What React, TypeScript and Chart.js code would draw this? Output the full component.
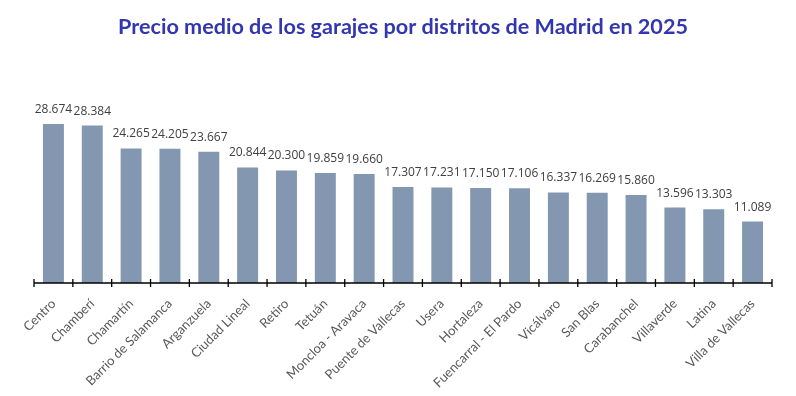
import React, { useEffect, useRef } from "react";
import { Chart, registerables } from "chart.js";

Chart.register(...registerables);

const TITLE = "Precio medio de los garajes por distritos de Madrid en 2025";
const districts = [
  "Centro",
  "Chamberí",
  "Chamartín",
  "Barrio de Salamanca",
  "Arganzuela",
  "Ciudad Lineal",
  "Retiro",
  "Tetuán",
  "Moncloa - Aravaca",
  "Puente de Vallecas",
  "Usera",
  "Hortaleza",
  "Fuencarral - El Pardo",
  "Vicálvaro",
  "San Blas",
  "Carabanchel",
  "Villaverde",
  "Latina",
  "Villa de Vallecas",
];
const prices = [
  28674, 28384, 24265, 24205, 23667, 20844, 20300, 19859, 19660, 17307, 17231,
  17150, 17106, 16337, 16269, 15860, 13596, 13303, 11089,
];

const fmt = (v: number) => {
  const s = String(Math.round(v));
  return s.replace(/\B(?=(\d{3})+(?!\d))/g, ".");
};

const overlay = {
  id: "overlay",
  afterDraw(chart: any) {
    const ctx = chart.ctx;
    const xs = chart.scales.x;
    const area = chart.chartArea;
    ctx.save();
    ctx.strokeStyle = "#000000";
    ctx.lineWidth = 1.3;
    ctx.beginPath();
    ctx.moveTo(area.left, area.bottom);
    ctx.lineTo(area.right, area.bottom);
    const n = districts.length;
    const w = (area.right - area.left) / n;
    for (let i = 0; i <= n; i++) {
      const x = i < n ? xs.getPixelForValue(i) - w / 2 : xs.getPixelForValue(n - 1) + w / 2;
      ctx.moveTo(x, area.bottom - 4);
      ctx.lineTo(x, area.bottom + 4);
    }
    ctx.stroke();
    const meta = chart.getDatasetMeta(0);
    ctx.fillStyle = "#404040";
    ctx.font = "12px 'Open Sans', Lato, sans-serif";
    ctx.textAlign = "center";
    ctx.textBaseline = "alphabetic";
    meta.data.forEach((bar: any, i: number) => {
      ctx.fillText(fmt(prices[i]), bar.x, bar.y - 11);
    });
    ctx.restore();
  },
};

export default function App() {
  const ref = useRef<HTMLCanvasElement | null>(null);
  useEffect(() => {
    if (!ref.current) return;
    const chart = new Chart(ref.current, {
      type: "bar",
      data: {
        labels: districts,
        datasets: [
          {
            data: prices,
            backgroundColor: "#8497B0",
            barPercentage: 0.54,
            categoryPercentage: 1,
          },
        ],
      },
      options: {
        responsive: false,
        animation: false,
        layout: { padding: { left: 34, right: 24, top: 0, bottom: 0 } },
        plugins: {
          legend: { display: false },
          tooltip: { enabled: false },
          title: {
            display: true,
            text: TITLE,
            color: "#3236B0",
            font: { family: "Lato, 'Open Sans', sans-serif", size: 21.6, weight: "bold" },
            padding: { top: 14, bottom: 49 },
          },
        },
        scales: {
          x: {
            grid: { display: false, drawTicks: false },
            border: { display: false },
            ticks: {
              color: "#595959",
              font: { family: "Lato, 'Open Sans', sans-serif", size: 13 },
              maxRotation: 45,
              minRotation: 45,
              autoSkip: false,
              padding: 13,
            },
            afterFit: (s: any) => {
              s.height = 113;
            },
          },
          y: {
            display: false,
            min: 0,
            max: 35000,
          },
        },
      },
      plugins: [overlay],
    });
    return () => chart.destroy();
  }, []);
  return (
    <div style={{ position: "absolute", left: 0, top: 0, width: 796, height: 396, background: "#fff" }}>
      <canvas ref={ref} width={796} height={396} style={{ width: 796, height: 396 }} />
    </div>
  );
}
